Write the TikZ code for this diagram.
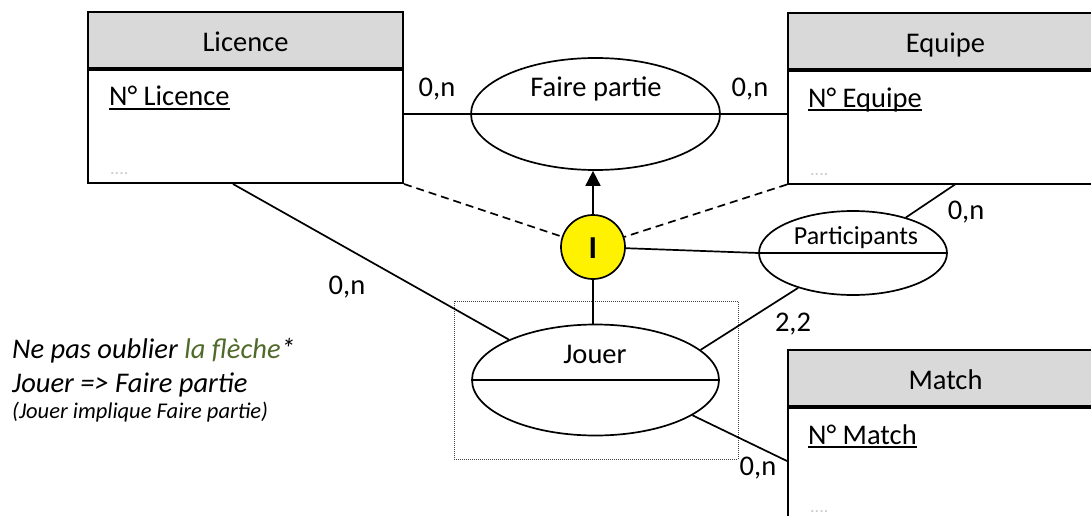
\documentclass[tikz,border=0pt]{standalone}
\usepackage{fontspec}
\setmainfont{Carlito}
\usetikzlibrary{shapes.geometric,arrows.meta}
\definecolor{headgray}{RGB}{217,217,217}
\definecolor{notegreen}{RGB}{80,106,42}
% underlined identifier with a fixed rule depth
\newcommand{\keyattr}[1]{\setbox0\hbox{#1}\rlap{\rule[-4pt]{\wd0}{1.7pt}}\box0}
\begin{document}
\begin{tikzpicture}[x=1pt,y=-1pt,
  txt/.style={font=\fontsize{28.5}{34}\selectfont, inner sep=0},
  head/.style={draw, line width=2pt, fill=headgray, minimum width=315pt, minimum height=56pt, inner sep=0},
  body/.style={draw, line width=2pt, fill=white, minimum width=315pt, minimum height=113pt, inner sep=0},
  assoc/.style={draw, ellipse, line width=1.7pt, inner sep=0},
  link/.style={line width=1.7pt},
  dots/.style={text=black!20, font=\fontsize{18}{18}\selectfont, inner sep=0},
  note/.style={font=\fontsize{28.5}{34}\selectfont\itshape, inner sep=0, anchor=base west},
]
\useasboundingbox (0,0) rectangle (1091,516);
\clip (0,0) rectangle (1091,516);

% entities
\node[head] (lic-h) at (245.5,40) {};
\node[body, anchor=north] (lic) at (lic-h.south) {};
\node[txt, anchor=base] (lic-t) at (245.5,52) {Licence};
\node[txt, anchor=base west] (lic-k) at (109,106) {\keyattr{N° Licence}};
\node[dots, anchor=base west] (lic-d) at (110,174) {....};

\node[head] (eq-h) at (945.5,41.5) {};
\node[body, anchor=north, minimum height=112pt] (eq) at (eq-h.south) {};
\node[txt, anchor=base] (eq-t) at (945.5,52.5) {Equipe};
\node[txt, anchor=base west] (eq-k) at (808,107) {\keyattr{N° Equipe}};
\node[dots, anchor=base west] (eq-d) at (810,175) {....};

\node[head] (ma-h) at (945.5,378) {};
\node[body, anchor=north] (ma) at (ma-h.south) {};
\node[txt, anchor=base] (ma-t) at (945.5,389) {Match};
\node[txt, anchor=base west] (ma-k) at (808,444) {\keyattr{N° Match}};
\node[dots, anchor=base west] (ma-d) at (810,512) {....};

% associations
\node[assoc, minimum width=249pt, minimum height=112pt] (fp) at (595.5,114) {};
\node[txt, anchor=base] (fp-t) at (596,96) {Faire partie};

\node[draw, line width=0.8pt, black!75, dash pattern=on 1pt off 1pt, minimum width=284pt, minimum height=158pt, inner sep=0] (frame) at (596,380) {};
\node[assoc, minimum width=247pt, minimum height=111pt] (jo) at (595.5,380) {};
\node[txt, anchor=base] (jo-t) at (595,363) {Jouer};

\node[assoc, minimum width=188pt, minimum height=84pt] (pa) at (853,253) {};
\node[txt, font=\fontsize{26}{30}\selectfont, anchor=base] (pa-t) at (856,244) {Participants};

% inclusion constraint
\node[draw, circle, fill=yellow, line width=1.7pt, minimum size=64pt, inner sep=0] (inc) at (593,247) {};
\node[txt, font=\fontsize{32}{36}\selectfont\bfseries, anchor=base] (inc-t) at (593,258) {I};

% connectors
\draw[link] (fp.center -| lic.east) -- (fp.center -| eq.west);
\draw[link] (pa.west) -- (pa.east);
\draw[link] (jo.west) -- (jo.east);
\draw[link, -{Triangle[length=15pt,width=15pt]}] (inc.north) -- (inc.north |- fp.south);
\draw[link] (inc.south) -- (inc.south |- jo.north);
\draw[link, dash pattern=on 8pt off 5pt] (lic.south east) -- (inc);
\draw[link, dash pattern=on 8pt off 5pt] (eq.south west) -- (inc);
\draw[link] (inc) -- (pa.west);
\draw[link] ([xshift=9.5pt]eq.south) -- (pa);
\draw[link] (pa) -- (jo.16);
\draw[link] ([xshift=-12.5pt]lic.south) -- (jo.155);
\coordinate (ma-in) at ([yshift=-54pt]ma-h.south west);
\draw[link] (jo.-20) -- (ma-in);

% cardinalities
\node[txt, anchor=base] (c1) at (437,96) {0,n};
\node[txt, anchor=base] (c2) at (750,96) {0,n};
\node[txt, anchor=base] (c3) at (966,219) {0,n};
\node[txt, anchor=base] (c4) at (793,331) {2,2};
\node[txt, anchor=base] (c5) at (347,294) {0,n};
\node[txt, anchor=base] (c6) at (758,475) {0,n};

% note
\node[note] (n1) at (12,358) {Ne pas oublier \textcolor{notegreen}{la flèche}*};
\node[note] (n2) at (12,392) {Jouer => Faire partie};
\node[note, font=\fontsize{22.5}{27}\selectfont\itshape] (n3) at (12,418) {(Jouer implique Faire partie)};
\end{tikzpicture}
\end{document}
